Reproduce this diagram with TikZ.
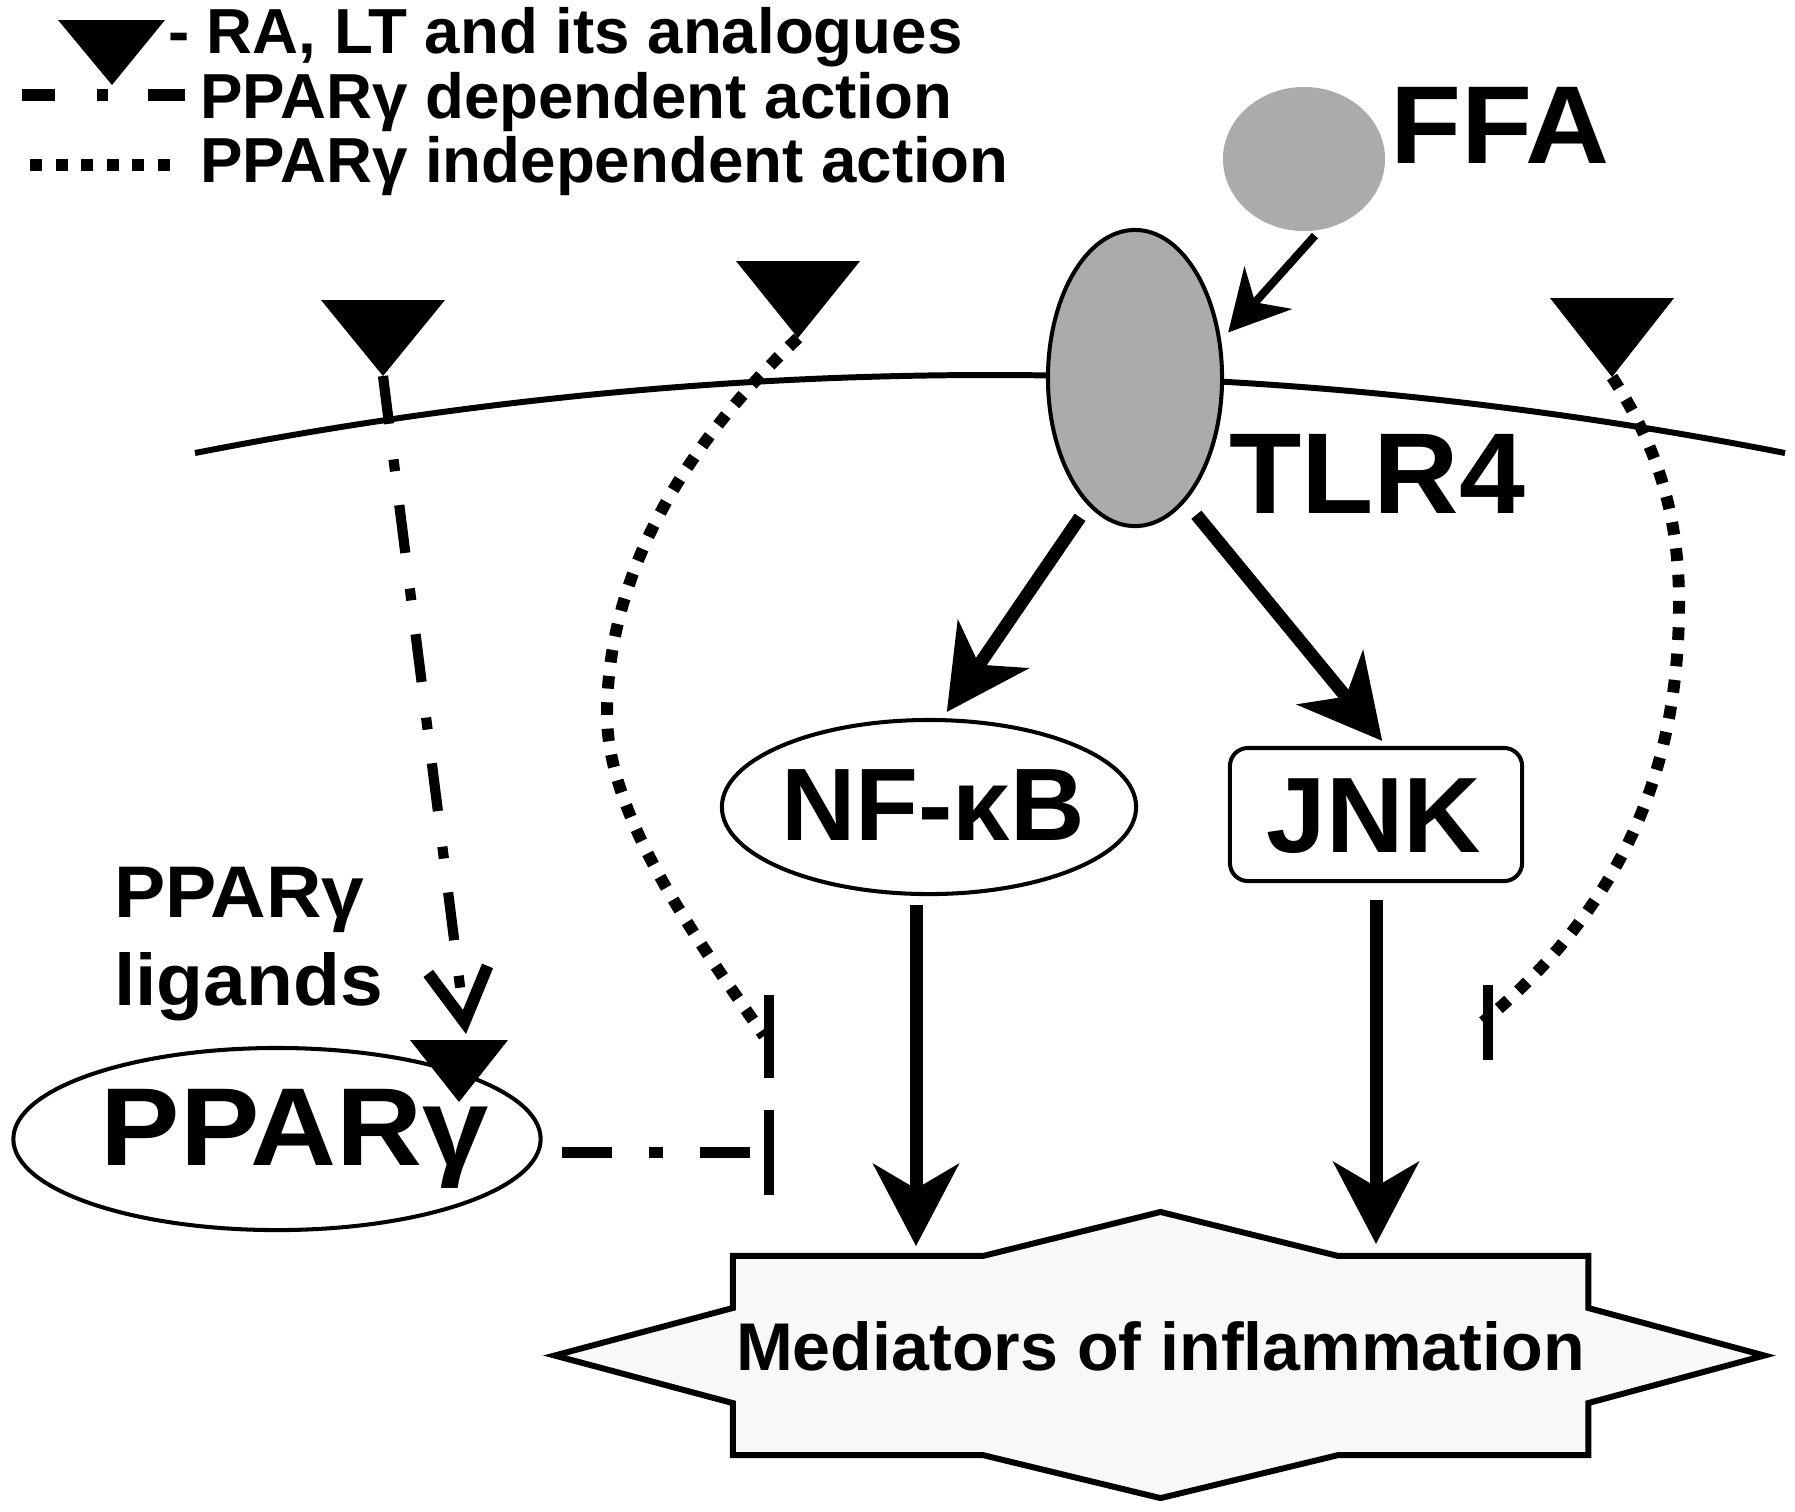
\documentclass[tikz,border=0pt]{standalone}
\usepackage{fontspec}
\usepackage{graphicx}
\setmainfont{Liberation Sans}
\usetikzlibrary{arrows.meta,shapes.geometric}
\newcommand\myfs[1]{\fontsize{#1}{#1}\selectfont}
\definecolor{molgray}{HTML}{ABABAB}
\definecolor{starfill}{HTML}{F8F8F8}
\begin{document}
\begin{tikzpicture}[x=0.01cm,y=-0.01cm,
  every node/.style={inner sep=0pt,outer sep=0pt},
  ligand/.style={fill=black},
  shapeline/.style={draw=black,line width=1.15pt},
  legtext/.style={font={\bfseries\myfs{18.1pt}},anchor=base west},
  bigtext/.style={font={\bfseries\myfs{31.5pt}}},
  bigarrow/.style={line width=3.7pt,-{Stealth[length=23.3pt,width=24.2pt,inset=7pt]}},
  ffaarrow/.style={line width=2.3pt,-{Stealth[length=17pt,width=18pt,inset=5.5pt]}},
  ppardep/.style={line width=2.9pt,dash pattern=on 13.7pt off 10.2pt on 3.4pt off 9.7pt},
  pparind/.style={line width=3.4pt,dash pattern=on 3.6pt off 3.9pt},
  inhibbar/.style={fill=black,minimum width=0.1cm,rectangle}
]
\useasboundingbox (0,0) rectangle (1795,1511);

% ---------- legend ----------
\coordinate (legtip) at (112,85);
\fill[ligand] (legtip) ++(-54,-65) -- ++(107,0) -- (legtip) -- cycle;
\node[legtext] (leg1) at (168,53) {- RA, LT and its analogues};
\draw[line width=3.4pt,dash pattern=on 9.4pt off 12pt on 3.1pt off 11.4pt on 10.5pt off 20pt] (22,95) -- (185,95);
\node[legtext] (leg2) at (200,118) {PPARγ dependent action};
\draw[line width=3.4pt,dash pattern=on 3.4pt off 3.87pt] (30,165) -- (170,165);
\node[legtext] (leg3) at (200,182) {PPARγ independent action};

% ---------- membrane ----------
\draw[line width=1.7pt] (195,453) .. controls (725,349) and (1255,349) .. (1785,453);

% ---------- FFA and TLR4 ----------
\node[ellipse,fill=molgray,minimum width=1.62cm,minimum height=1.44cm] (ffa) at (1304,159) {};
\node[bigtext,anchor=base west] (ffalabel) at (1390,163) {\scalebox{1.05}[1]{FFA}};
\node[ellipse,shapeline,fill=molgray,minimum width=1.74cm,minimum height=2.96cm] (tlr4) at (1135,378) {};
\node[font={\bfseries\myfs{32.7pt}},anchor=base west] (tlrlabel) at (1229,513) {\scalebox{1.03}[1]{TLR4}};

% ---------- NF-kB, JNK ----------
\node[ellipse,shapeline,minimum width=4.14cm,minimum height=1.74cm] (nfkb) at (929,807) {};
\node[font={\bfseries\myfs{29.3pt}},anchor=base] (nfkblabel) at (933,840) {NF-κB};
\node[rectangle,rounded corners=0.18cm,shapeline,minimum width=2.92cm,minimum height=1.33cm] (jnk) at (1376,814.5) {};
\node[font={\bfseries\myfs{30.5pt}},anchor=base] (jnklabel) at (1374,852) {JNK};

% ---------- PPARgamma ----------
\node[ellipse,shapeline,minimum width=5.27cm,minimum height=1.82cm] (ppar) at (277,1139) {};
\node[bigtext,anchor=base] (pparlabel) at (295,1165) {\scalebox{1.075}[1]{PPARγ}};
\node[font={\bfseries\myfs{20.8pt}},anchor=base west] (lig1) at (114,917) {\scalebox{1.05}[1]{PPARγ}};
\node[font={\bfseries\myfs{20.8pt}},anchor=base west] (lig2) at (114,1005) {\scalebox{1.05}[1]{ligands}};

% ---------- ligands (triangles) ----------
\coordinate (t1) at (383,376);
\coordinate (t2) at (798,338);
\coordinate (t3) at (1612,377);
\coordinate (tp) at (459,1102);
\fill[ligand] (t1) ++(-62,-76) -- ++(124,0) -- (t1) -- cycle;
\fill[ligand] (t2) ++(-62,-77) -- ++(124,0) -- (t2) -- cycle;
\fill[ligand] (t3) ++(-62,-79) -- ++(124,0) -- (t3) -- cycle;
\fill[ligand] (tp) ++(-49,-62) -- ++(98,0) -- (tp) -- cycle;
\coordinate (ligin) at (466,1034);

% ---------- inhibition bars ----------
\node[inhibbar,minimum height=0.83cm] (bar1) at (769,1036) {};
\node[inhibbar,minimum height=0.85cm] (bar2) at (769,1152.5) {};
\node[inhibbar,minimum height=0.75cm] (bar3) at (1488,1022) {};

% ---------- mediators ----------
\node[minimum width=8.55cm,minimum height=1.99cm] (med) at (1160.5,1355.5) {};
\draw[line width=1.7pt,fill=starfill,line join=miter]
  (med.north west) -- ([xshift=2.5cm]med.north west) -- ([yshift=0.44cm]med.north)
  -- ([xshift=-2.5cm]med.north east) -- (med.north east) -- ([yshift=-0.52cm]med.north east)
  -- ([xshift=1.76cm]med.east) -- ([yshift=0.52cm]med.south east) -- (med.south east)
  -- ([xshift=-2.5cm]med.south east) -- ([yshift=-0.43cm]med.south)
  -- ([xshift=2.5cm]med.south west) -- (med.south west) -- ([yshift=0.52cm]med.south west)
  -- ([xshift=-1.78cm]med.west) -- ([yshift=-0.52cm]med.north west) -- cycle;
\node[font={\bfseries\myfs{19.2pt}},anchor=base] (medlabel) at ([yshift=-0.145cm]med.center) {\scalebox{1.01}[1]{Mediators of inflammation}};

% ---------- connectors ----------
\draw[ffaarrow,shorten <=2.3pt,shorten >=3.7pt] (ffa.-77) -- (tlr4.23);
\draw[bigarrow,shorten <=4.6pt,shorten >=2.8pt] (tlr4.250) -- (nfkb.82);
\draw[bigarrow,shorten <=5.4pt,shorten >=2.6pt] (tlr4.-68) -- ([xshift=0.12cm]jnk.north);
\draw[bigarrow,shorten <=3.1pt,shorten >=2.8pt] ([xshift=-0.13cm]nfkb.south) -- ([xshift=-0.13cm]nfkb.south |- med.north);
\draw[bigarrow,shorten <=5.4pt,shorten >=3.4pt] (jnk.south) -- (jnk.south |- med.north);

\draw[ppardep,-{Straight Barb[length=15pt,width=17pt,line width=3.4pt]}] (t1) -- (ligin);
\draw[line width=2.9pt,dash pattern=on 14.2pt off 10.5pt on 4pt off 10.5pt,shorten <=6pt] (ppar.east |- bar2.west) -- (bar2.west);
\draw[pparind] (t2) .. controls (700,430) and (607,560) .. (607,715)
  .. controls (607,820) and (705,950) .. (bar1.west);
\draw[pparind] (t3) .. controls (1660,450) and (1679,520) .. (1679,603)
  .. controls (1679,760) and (1630,900) .. (bar3.west);
\end{tikzpicture}
\end{document}
